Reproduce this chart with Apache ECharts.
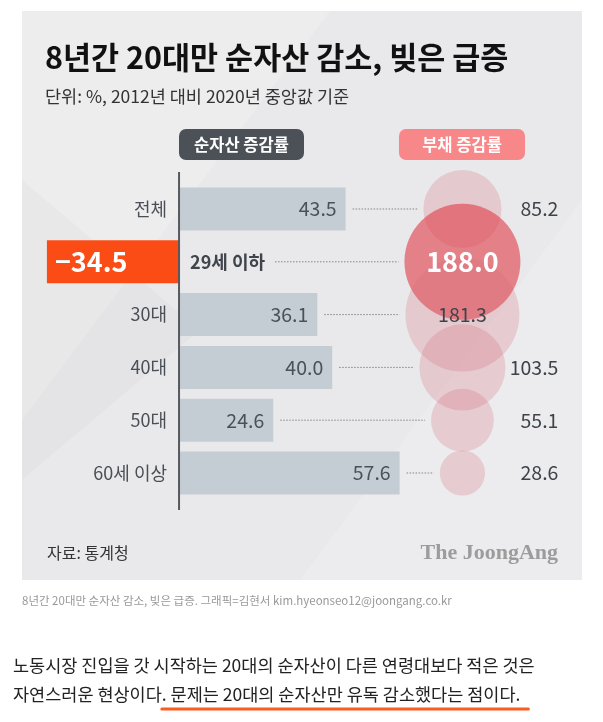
<!DOCTYPE html>
<html><head><meta charset="utf-8">
<script src="https://cdn.jsdelivr.net/npm/echarts@6/dist/echarts.min.js"></script>
<style>html,body{margin:0;padding:0;background:#fff;}#c{width:603px;height:722px;}</style>
</head><body><div id="c"></div>
<script>
// ---- data ----
const categories = ['전체', '29세 이하', '30대', '40대', '50대', '60세 이상'];
const netAssetChange = [43.5, -34.5, 36.1, 40.0, 24.6, 57.6];
const debtChange = [85.2, 188.0, 181.3, 103.5, 55.1, 28.6];
const titleText = '8년간 20대만 순자산 감소, 빚은 급증';
const subtitleText = '단위: %, 2012년 대비 2020년 중앙값 기준';
const netHeader = '순자산 증감률';
const debtHeader = '부채 증감률';
const sourceText = '자료: 통계청';
const logoText = 'The JoongAng';
const captionText = '8년간 20대만 순자산 감소, 빚은 급증. 그래픽=김현서 kim.hyeonseo12@joongang.co.kr';
const paraLine1 = '노동시장 진입을 갓 시작하는 20대의 순자산이 다른 연령대보다 적은 것은';
const paraLine2a = '자연스러운 현상이다';
const paraLine2b = '. 문제는 20대의 순자산만 유독 감소했다는 점이다.';

// ---- layout / style ----
const FONT = '"Noto Sans CJK KR", "Noto Sans", sans-serif';
const X_MIN = -35, X_MAX = 100, BUBBLE_COL = 74;
const GRID = {left: 45, top: 182.6, width: 517, height: 316.8};
const bubbleDiameter = v => 8.46 * Math.sqrt(v);
const PARA_FONT = '17.5px ' + FONT;
const VAL_SIZE = 19.5;

const chart = echarts.init(document.getElementById('c'), null, {renderer: 'canvas'});

const measureCtx = document.createElement('canvas').getContext('2d');
function textWidth(t, font) { measureCtx.font = font; return measureCtx.measureText(t).width; }

const barData = netAssetChange.map(v => {
  if (v < 0) {
    return {value: v, itemStyle: {color: '#fc4c16'},
      label: {show: true, position: 'insideLeft', distance: 8, color: '#fff', fontSize: 27, fontWeight: 'bold',
        fontFamily: FONT, formatter: () => '−' + Math.abs(v).toFixed(1)}};
  }
  return {value: v, itemStyle: {color: '#c5cdd4'},
    label: {show: true, position: 'insideRight', distance: 9, color: '#4b5158', fontSize: VAL_SIZE,
      fontFamily: FONT, formatter: () => v.toFixed(1)}};
});

const scatterData = debtChange.map((d, i) => ({
  value: [BUBBLE_COL, i, d],
  itemStyle: {color: netAssetChange[i] < 0 ? 'rgba(224,72,82,0.82)' : 'rgba(214,112,124,0.33)'}
}));

const annoData = categories.map((c, i) => [netAssetChange[i], i, debtChange[i]]);

const catFont = '18px ' + FONT;
const catFontBold = 'bold 18px ' + FONT;

const option = {
  backgroundColor: '#ffffff',
  animation: false,
  textStyle: {fontFamily: FONT},
  grid: {left: GRID.left, top: GRID.top, width: GRID.width, height: GRID.height, containLabel: false, outerBoundsMode: 'none'},
  xAxis: {type: 'value', min: X_MIN, max: X_MAX, show: false},
  yAxis: {type: 'category', data: categories, inverse: true, show: false},
  series: [
    {type: 'bar', data: barData, barWidth: 43, z: 2},
    {type: 'scatter', data: scatterData, symbol: 'circle', symbolSize: v => bubbleDiameter(v[2]), z: 3,
      encode: {x: 0, y: 1}},
    {type: 'custom', data: annoData, encode: {x: 0, y: 1}, z: 5, clip: false,
      renderItem: (params, api) => {
        const net = api.value(0), i = api.value(1), debt = api.value(2);
        const p0 = api.coord([0, i]);
        const y = p0[1];
        const xb = api.coord([net, i])[0];
        const xc = api.coord([BUBBLE_COL, i])[0];
        const r = bubbleDiameter(debt) / 2;
        const ch = [];
        let start;
        if (net < 0) {
          ch.push({type: 'text', style: {text: categories[i], x: p0[0] + 11, y: y, align: 'left', verticalAlign: 'middle',
            font: catFontBold, fill: '#3f454b'}});
          start = p0[0] + 11 + textWidth(categories[i], catFontBold) + 10;
        } else {
          ch.push({type: 'text', style: {text: categories[i], x: p0[0] - 12, y: y, align: 'right', verticalAlign: 'middle',
            font: catFont, fill: '#4a4f55'}});
          start = xb + 7;
        }
        const end = xc - r - 6;
        ch.push({type: 'line', shape: {x1: start, y1: y, x2: end, y2: y},
          style: {stroke: '#858585', lineWidth: 1, lineDash: [1.5, 1.5]}});
        if (debt > 150) {
          const strong = net < 0;
          ch.push({type: 'text', style: {text: debt.toFixed(1), x: xc, y: y, align: 'center', verticalAlign: 'middle',
            font: (strong ? 'bold 27px ' : VAL_SIZE + 'px ') + FONT, fill: strong ? '#ffffff' : '#3d4349'}});
        } else {
          ch.push({type: 'text', style: {text: debt.toFixed(1), x: xc + 96, y: y, align: 'right', verticalAlign: 'middle',
            font: VAL_SIZE + 'px ' + FONT, fill: '#3d4349'}});
        }
        return {type: 'group', children: ch};
      }}
  ],
  graphic: {elements: [
    {type: 'rect', z: -10, shape: {x: 22, y: 11, width: 560, height: 569}, style: {fill: '#e9e9eb'}},
    {type: 'polygon', z: -9, shape: {points: [[22, 11], [330, 11], [22, 420]]}, style: {fill: 'rgba(255,255,255,0.18)'}},
    {type: 'polygon', z: -9, shape: {points: [[582, 200], [582, 580], [300, 580]]}, style: {fill: 'rgba(255,255,255,0.15)'}},
    {type: 'polygon', z: -9, shape: {points: [[22, 180], [200, 330], [22, 480]]}, style: {fill: 'rgba(0,0,0,0.02)'}},
    {type: 'text', z: 10, style: {text: titleText, x: 45, y: 57, verticalAlign: 'middle', font: 'bold 30.5px ' + FONT, fill: '#111'}},
    {type: 'text', z: 10, style: {text: subtitleText, x: 45, y: 96, verticalAlign: 'middle', font: '17.5px ' + FONT, fill: '#333'}},
    {type: 'rect', z: 10, shape: {x: 179, y: 129, width: 125, height: 31, r: 7}, style: {fill: '#4b5157'}},
    {type: 'text', z: 11, style: {text: netHeader, x: 241.5, y: 144.5, align: 'center', verticalAlign: 'middle', font: 'bold 16.5px ' + FONT, fill: '#fff'}},
    {type: 'rect', z: 10, shape: {x: 399, y: 129, width: 126, height: 31, r: 7}, style: {fill: '#f8878a'}},
    {type: 'text', z: 11, style: {text: debtHeader, x: 462, y: 144.5, align: 'center', verticalAlign: 'middle', font: 'bold 16.5px ' + FONT, fill: '#fff'}},
    {type: 'text', z: 10, style: {text: sourceText, x: 47, y: 553, verticalAlign: 'middle', font: '16px ' + FONT, fill: '#333'}},
    {type: 'text', z: 10, style: {text: logoText, x: 558, y: 553, align: 'right', verticalAlign: 'middle', font: 'bold 22px "Liberation Serif", "DejaVu Serif", serif', fill: '#9c9c9c'}},
    {type: 'text', z: 10, style: {text: captionText, x: 22, y: 601, verticalAlign: 'middle', font: '11.5px ' + FONT, fill: '#999'}},
    {type: 'text', z: 10, style: {text: paraLine1, x: 13, y: 665, verticalAlign: 'middle', font: PARA_FONT, fill: '#222'}},
    {type: 'text', z: 10, style: {text: paraLine2a + paraLine2b, x: 13, y: 694, verticalAlign: 'middle', font: PARA_FONT, fill: '#222'}}
  ]}
};
chart.setOption(option);

// axis line and underline, placed from library coordinates / text metrics
const x0 = chart.convertToPixel({gridIndex: 0}, [0, 0])[0];
const uStart = 13 + textWidth(paraLine2a, PARA_FONT);
const uEnd = 13 + textWidth(paraLine2a + paraLine2b, PARA_FONT) + 8;
chart.setOption({graphic: {elements: [
  {id: 'axisLine', type: 'line', z: 20, shape: {x1: x0, y1: 172, x2: x0, y2: 510}, style: {stroke: '#555a5f', lineWidth: 2}},
  {id: 'underline', type: 'line', z: 10, shape: {x1: uStart, y1: 709, x2: uEnd, y2: 709}, style: {stroke: '#ff5a1f', lineWidth: 3, lineCap: 'round'}}
]}});
</script>
</body></html>
